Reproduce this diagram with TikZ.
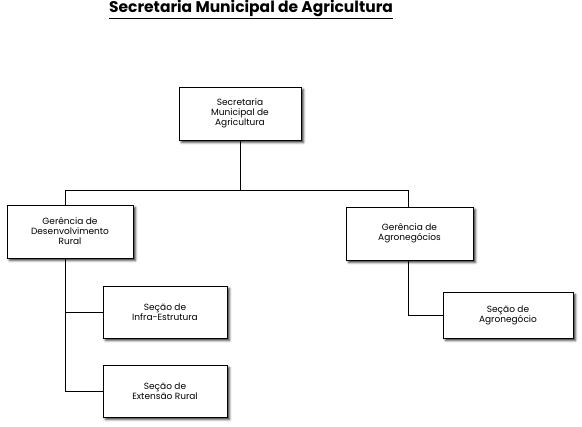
\documentclass[tikz,border=0pt]{standalone}
\usepackage{fontspec}
\setmainfont{Poppins}
\usepackage{tikz}
\usetikzlibrary{shadows.blur}
\tikzset{
  caixa/.style={draw=black, fill=white, thin, align=center,
    font=\fontsize{9}{10}\selectfont, inner sep=2pt,
    blur shadow={shadow xshift=2.5pt, shadow yshift=-2.5pt,
      shadow blur steps=4, shadow opacity=80}},
  linha/.style={black, line width=0.6pt}
}

\begin{document}
\begin{tikzpicture}[x=1pt, y=-1pt]
  \useasboundingbox (0,0) rectangle (582,427);
  % Titulo
  \node[anchor=base] (titulo) at (251,13) {\fontsize{15.5}{17}\selectfont\bfseries\underline{Secretaria Municipal de Agricultura}};
  % Secretaria
  \node[caixa, minimum width=122pt, minimum height=53pt] (sec) at (240,113.5)
    {Secretaria\\Municipal de\\Agricultura};
  % Gerencias
  \node[caixa, minimum width=126pt, minimum height=53pt] (gdr) at (70,231.5)
    {Gerência de\\Desenvolvimento\\Rural};
  \node[caixa, minimum width=127pt, minimum height=53pt] (ga) at (409.5,233.5)
    {Gerência de\\Agronegócios};
  % Secoes
  \node[caixa, minimum width=124pt, minimum height=52pt] (infra) at (165,312)
    {Seção de\\Infra-Estrutura};
  \node[caixa, minimum width=124pt, minimum height=52pt] (ext) at (165,391)
    {Seção de\\Extensão Rural};
  \node[caixa, minimum width=130pt, minimum height=46pt] (agro) at (508,315)
    {Seção de\\Agronegócio};
  % Ligacoes
  \coordinate (busL) at (65,190);
  \coordinate (busR) at (408,190);
  \draw[linha] (sec.south) -- (sec.south |- busL);
  \draw[linha] (busL |- gdr.north) -- (busL) -- (busR) -- (busR |- ga.north);
  \draw[linha] (busL |- gdr.south) |- (infra.west);
  \draw[linha] (busL |- gdr.south) |- (ext.west);
  \draw[linha] (busR |- ga.south) |- (agro.west);
\end{tikzpicture}
\end{document}
